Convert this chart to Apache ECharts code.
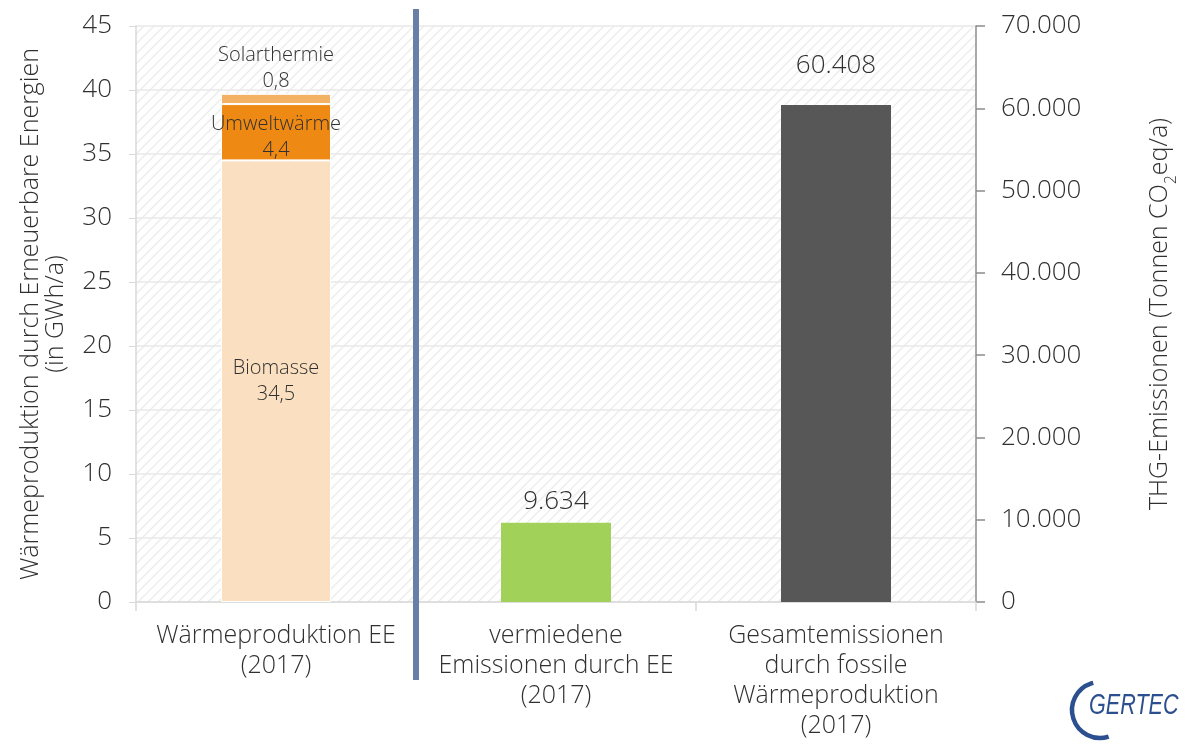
<!DOCTYPE html>
<html>
<head>
<meta charset="utf-8">
<script src="https://cdn.jsdelivr.net/npm/echarts@6/dist/echarts.min.js"></script>
<style>
html,body{margin:0;padding:0;background:#fff;}
#main{width:1186px;height:745px;}
</style>
</head>
<body>
<div id="main"></div>
<script>
// ---- data ----
const categories = ['Wärmeproduktion EE\n(2017)', 'vermiedene\nEmissionen durch EE\n(2017)', 'Gesamtemissionen\ndurch fossile\nWärmeproduktion\n(2017)'];
const biomasse = [34.5, '-', '-'];
const umweltwaerme = [4.4, '-', '-'];
const solarthermie = [0.8, '-', '-'];
const emissionen = ['-', 9634, 60408];
const segmentNames = ['Biomasse', 'Umweltwärme', 'Solarthermie'];
const leftTicks = {min: 0, max: 45, interval: 5};
const rightTicks = {min: 0, max: 70000, interval: 10000};

const FONT = '"Open Sans", Roboto, sans-serif';
const FW = 300;
const TXT = '#303030';

function deNum(v){ return String(v).replace(/\B(?=(\d{3})+(?!\d))/g, '.'); }
function deDec(v){ return String(v).replace('.', ','); }

// hatch pattern
const tile = document.createElement('canvas');
tile.width = 10; tile.height = 10;
const tc = tile.getContext('2d');
tc.fillStyle = '#ffffff'; tc.fillRect(0,0,10,10);
tc.strokeStyle = '#ededed'; tc.lineWidth = 1.5;
tc.beginPath();
tc.moveTo(-1,11); tc.lineTo(11,-1);
tc.moveTo(-1,1); tc.lineTo(1,-1);
tc.moveTo(9,11); tc.lineTo(11,9);
tc.stroke();

const chart = echarts.init(document.getElementById('main'));

const segLabel = (name) => ({
  show: true, position: 'inside', fontFamily: FONT, fontWeight: FW, fontSize: 20, color: TXT, lineHeight: 26,
  formatter: p => name + '\n' + deDec(p.value)
});

const option = {
  backgroundColor: '#ffffff',
  animation: false,
  grid: {left: 136, right: 210, top: 26, bottom: 143, show: true, borderWidth: 0,
    containLabel: false, outerBoundsMode: 'none',
    backgroundColor: {image: tile, repeat: 'repeat'}},
  xAxis: {
    type: 'category', data: categories,
    axisLine: {lineStyle: {color: '#d9d9d9', width: 1.5}},
    axisTick: {show: true, length: 9, lineStyle: {color: '#d9d9d9', width: 1.5}},
    axisLabel: {fontFamily: FONT, fontWeight: FW, fontSize: 25, color: TXT, lineHeight: 30, margin: 19, interval: 0}
  },
  yAxis: [
    {type: 'value', min: leftTicks.min, max: leftTicks.max, interval: leftTicks.interval,
     name: 'Wärmeproduktion durch Erneuerbare Energien\n(in GWh/a)', nameLocation: 'middle', nameRotate: 90, nameGap: 68,
     nameTextStyle: {fontFamily: FONT, fontWeight: FW, fontSize: 25, color: TXT, lineHeight: 25},
     axisLine: {show: true, lineStyle: {color: '#d9d9d9', width: 1.5}},
     axisTick: {show: true, length: 7, lineStyle: {color: '#d9d9d9'}},
     axisLabel: {fontFamily: FONT, fontWeight: FW, fontSize: 26, color: TXT, margin: 24},
     splitLine: {show: true, lineStyle: {color: '#e9e9e9', width: 1.5}}},
    {type: 'value', min: rightTicks.min, max: rightTicks.max, interval: rightTicks.interval, position: 'right',
     name: '{a|THG-Emissionen (Tonnen CO}{s|2}{a|eq/a)}', nameLocation: 'middle', nameRotate: 90, nameGap: 170,
     nameTextStyle: {fontFamily: FONT, fontWeight: FW, fontSize: 25, color: TXT,
       rich: {a: {fontFamily: FONT, fontWeight: FW, fontSize: 25, color: TXT, height: 28, verticalAlign: 'bottom'},
              s: {fontFamily: FONT, fontWeight: FW, fontSize: 16, color: TXT, verticalAlign: 'bottom', padding: [0,0,-5,0]}}},
     axisLine: {show: true, lineStyle: {color: '#8c8c8c', width: 1.5}},
     axisTick: {show: true, length: 9, lineStyle: {color: '#8c8c8c', width: 1.5}},
     axisLabel: {fontFamily: FONT, fontWeight: FW, fontSize: 26, color: TXT, margin: 25, formatter: v => deNum(v)},
     splitLine: {show: false}}
  ],
  series: [
    {name: segmentNames[0], type: 'bar', stack: 'ee', yAxisIndex: 0, data: biomasse, barWidth: 110, barGap: '-100%',
     itemStyle: {color: '#fadfc0', borderColor: '#fff', borderWidth: 1}, label: segLabel(segmentNames[0])},
    {name: segmentNames[1], type: 'bar', stack: 'ee', yAxisIndex: 0, data: umweltwaerme, barWidth: 110, barGap: '-100%',
     itemStyle: {color: '#ee8a14', borderColor: '#fff', borderWidth: 1},
     label: Object.assign(segLabel(segmentNames[1]), {offset: [0, 5]})},
    {name: segmentNames[2], type: 'bar', stack: 'ee', yAxisIndex: 0, data: solarthermie, barWidth: 110, barGap: '-100%',
     itemStyle: {color: '#f3b163', borderColor: '#fff', borderWidth: 1},
     label: Object.assign(segLabel(segmentNames[2]), {position: 'top', distance: 0})},
    {name: 'Emissionen', type: 'bar', yAxisIndex: 1, barWidth: 110, barGap: '-100%',
     data: emissionen.map((v, i) => v === '-' ? '-' : {value: v,
       itemStyle: {color: i === 1 ? '#a2d15a' : '#575757'},
       label: {distance: i === 1 ? 8 : 26}}),
     label: {show: true, position: 'top', fontFamily: FONT, fontWeight: FW, fontSize: 26, color: TXT, formatter: p => deNum(p.value)}}
  ]
};
chart.setOption(option);

// divider between first and second category + logo
const x0 = chart.convertToPixel({xAxisIndex: 0}, 0);
const x1 = chart.convertToPixel({xAxisIndex: 0}, 1);
const xd = (x0 + x1) / 2;
const deg = Math.PI / 180;
chart.setOption({
  graphic: [
    {type: 'line', shape: {x1: xd, y1: 9, x2: xd, y2: 680}, style: {stroke: '#6a7fa6', lineWidth: 6}, z: 100},
    {type: 'arc', shape: {cx: 1100, cy: 710, r: 28, startAngle: 72 * deg, endAngle: 256 * deg, clockwise: true},
     style: {stroke: '#2c4f8f', lineWidth: 4.5, fill: null}, z: 100},
    {type: 'text', x: 1089, y: 691, scaleX: 0.72,
     style: {text: 'GERTEC', font: 'italic 30px "Liberation Sans", sans-serif', fill: '#2c4f8f'}, z: 100}
  ]
});
</script>
</body>
</html>
